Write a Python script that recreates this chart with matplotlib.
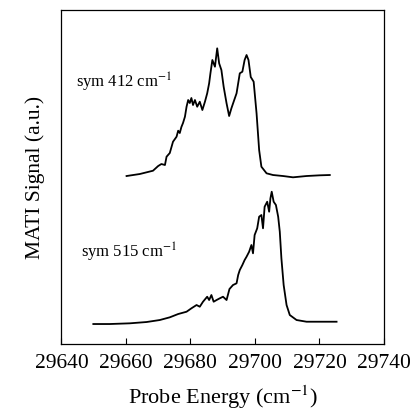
import numpy as np
import matplotlib
matplotlib.use('Agg')
import matplotlib.pyplot as plt

plt.rcParams['font.family'] = ['Liberation Serif', 'DejaVu Serif']
plt.rcParams['mathtext.fontset'] = 'stix'

# sym 412 cm-1 trace (upper)
e412 = [29660.2, 29664.3, 29668.4, 29670.0, 29671.0, 29672.1, 29672.6, 29673.6,
        29674.6, 29675.7, 29676.2, 29676.7, 29677.2, 29677.7, 29678.3, 29678.8,
        29679.3, 29679.8, 29680.3, 29680.8, 29681.4, 29682.1, 29682.9, 29683.7,
        29684.5, 29685.2, 29685.8, 29686.2, 29686.8, 29687.6, 29688.3, 29688.9,
        29689.6, 29690.3, 29691.2, 29692.0, 29692.7, 29693.4, 29694.3, 29694.8,
        29695.3, 29696.1, 29696.8, 29697.4, 29698.0, 29698.7, 29699.6, 29700.5,
        29701.3, 29702.0, 29703.6, 29705.6, 29708.7, 29711.8, 29716.0, 29720.1,
        29723.2]
s412 = [168, 170, 173.3, 178, 180, 179, 187.3, 191,
        202.3, 207.3, 213.3, 211, 217, 221, 227.3, 237.3,
        244, 241, 246, 239, 244, 237.3, 242.3, 234,
        242.3, 250.7, 260.7, 270.7, 284, 277.3, 295.7, 280.7,
        274, 257.3, 240.7, 228, 235.7, 242.3, 250.7, 260.7,
        270.7, 272.3, 284, 289, 284, 267, 262.3, 230.7,
        194, 177.3, 170.7, 169, 168, 166.7, 168, 168.7,
        169]

# sym 515 cm-1 trace (lower)
e515 = [29649.9, 29655.0, 29661.2, 29666.4, 29670.5, 29673.6, 29676.2, 29678.8,
        29680.3, 29681.9, 29682.9, 29683.9, 29685.2, 29685.8, 29686.5, 29687.2,
        29688.1, 29689.1, 29690.1, 29691.2, 29692.1, 29693.2, 29694.3, 29694.8,
        29695.3, 29696.1, 29696.8, 29697.4, 29698.2, 29698.9, 29699.4, 29699.9,
        29700.7, 29701.3, 29702.0, 29702.5, 29703.0, 29703.8, 29704.4, 29704.8,
        29705.2, 29705.8, 29706.5, 29707.2, 29707.7, 29708.2, 29708.9, 29709.8,
        29710.8, 29712.9, 29716.0, 29720.1, 29725.3]
s515 = [20, 20, 20.7, 22, 24, 26.7, 30, 32.3,
        35.7, 39, 37.3, 42.3, 47.3, 44, 49, 42.3,
        44, 45.7, 47.3, 44, 55, 59, 60.7, 69,
        74, 79, 84, 87.3, 92.3, 99, 90.7, 109,
        115.7, 127.3, 129, 115.7, 137.3, 142.3, 132.3, 145.7,
        152.3, 142.3, 139, 127.3, 112.3, 85.7, 59, 39,
        29, 24, 22.3, 22.3, 22.3]

xticks = [29640, 29660, 29680, 29700, 29720, 29740]

fig = plt.figure(figsize=(4.12, 4.17), dpi=100)
ax = fig.add_axes([0.149, 0.175, 0.783, 0.801])
ax.plot(e412, s412, color='black', lw=1.3)
ax.plot(e515, s515, color='black', lw=1.3)
ax.text(29644.5, 262, 'sym 412 cm$^{-1}$', fontsize=12, va='center', ha='left')
ax.text(29646, 92, 'sym 515 cm$^{-1}$', fontsize=12, va='center', ha='left')

ax.set_xlim(29640, 29740)
ax.set_ylim(0, 334)
ax.set_xticks(xticks)
ax.set_yticks([])
ax.tick_params(axis='x', direction='in', length=4, labelsize=15.5, pad=7)
for sp in ax.spines.values():
    sp.set_linewidth(0.9)
ax.set_xlabel('Probe Energy (cm$^{-1}$)', fontsize=16, labelpad=8)
ax.set_ylabel('MATI Signal (a.u.)', fontsize=15.5, labelpad=12)
fig.savefig('out.png', dpi=100)
